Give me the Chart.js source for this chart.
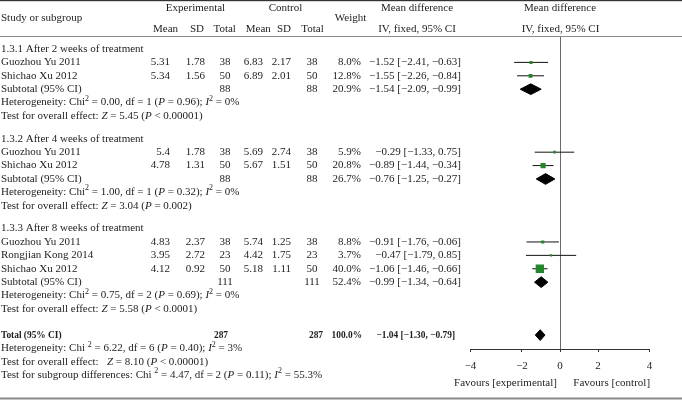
<!DOCTYPE html>
<html>
<head>
<meta charset="utf-8">
<script src="https://cdn.jsdelivr.net/npm/chart.js@4/dist/chart.umd.min.js"></script>
<style>
  html, body { margin: 0; padding: 0; background: #fff; }
  #wrap { width: 682px; height: 400px; position: relative; }
</style>
</head>
<body>
<div id="wrap"><canvas id="c"></canvas></div>
<script>
// ---------------- DATA ----------------
const groupTitles = ["1.3.1 After 2 weeks of treatment", "1.3.2 After 4 weeks of treatment", "1.3.3 After 8 weeks of treatment"];
const studyNames = ["Guozhou Yu 2011", "Shichao Xu 2012", "Guozhou Yu 2011", "Shichao Xu 2012", "Guozhou Yu 2011", "Rongjian Kong 2014", "Shichao Xu 2012"];
const studyGroup = [0, 0, 1, 1, 2, 2, 2];
const expMean = [5.31, 5.34, 5.4, 4.78, 4.83, 3.95, 4.12];
const expSD   = [1.78, 1.56, 1.78, 1.31, 2.37, 2.72, 0.92];
const expN    = [38, 50, 38, 50, 38, 23, 50];
const ctlMean = [6.83, 6.89, 5.69, 5.67, 5.74, 4.42, 5.18];
const ctlSD   = [2.17, 2.01, 2.74, 1.51, 1.25, 1.75, 1.11];
const ctlN    = [38, 50, 38, 50, 38, 23, 50];
const studyWeight = [8.0, 12.8, 5.9, 20.8, 8.8, 3.7, 40.0];
const studyMD = [-1.52, -1.55, -0.29, -0.89, -0.91, -0.47, -1.06];
const studyLo = [-2.41, -2.26, -1.33, -1.44, -1.76, -1.79, -1.46];
const studyHi = [-0.63, -0.84, 0.75, -0.34, -0.06, 0.85, -0.66];

const groupExpN = [88, 88, 111];
const groupCtlN = [88, 88, 111];
const groupWeight = [20.9, 26.7, 52.4];
const groupMD = [-1.54, -0.76, -0.99];
const groupLo = [-2.09, -1.25, -1.34];
const groupHi = [-0.99, -0.27, -0.64];
const groupChi = ["0.00", "1.00", "0.75"];
const groupDf = [1, 1, 2];
const groupHetP = ["0.96", "0.32", "0.69"];
const groupI2 = ["0%", "0%", "0%"];
const groupZ = ["5.45", "3.04", "5.58"];
const groupZP = ["< 0.00001", "= 0.002", "< 0.0001"];

const totalExpN = 287, totalCtlN = 287, totalWeight = 100.0;
const totalMD = -1.04, totalLo = -1.30, totalHi = -0.79;
const totalChi = "6.22", totalDf = 6, totalHetP = "0.40", totalI2 = "3%";
const totalZ = "8.10", totalZP = "< 0.00001";
const subChi = "4.47", subDf = 2, subP = "0.11", subI2 = "55.3%";

const xTicks = [-4, -2, 0, 2, 4];
const xTickLabels = ["−4", "−2", "0", "2", "4"];
const favourLeft = "Favours [experimental]";
const favourRight = "Favours [control]";

// ---------------- LAYOUT ----------------
const FONT = '"Liberation Serif", "Times New Roman", serif';
const ROW_PX = 13.4, ROW0_Y = 49, AREA_TOP = 36, AREA_BOTTOM = 349;
const GROUP_GAP = 0.7, TOTAL_GAP = 0.95;

const groupHeadRow = [], groupSubRow = [], studyRow = [];
let r = 0;
groupTitles.forEach((t, g) => {
  groupHeadRow[g] = r; r += 1;
  studyGroup.forEach((sg, i) => { if (sg === g) { studyRow[i] = r; r += 1; } });
  groupSubRow[g] = r;
  r += 3;
  if (g < groupTitles.length - 1) r += GROUP_GAP;
});
const totalRow = r + TOTAL_GAP;

const fmt2 = v => (v < 0 ? "−" : "") + Math.abs(v).toFixed(2);
const ciText = (m, lo, hi) => `${fmt2(m)} [${fmt2(lo)}, ${fmt2(hi)}]`;
const wText = w => w.toFixed(1) + "%";

// axis as drawn in the reference: linear near zero, outer ticks stretched
class ForestScale extends Chart.LinearScale {
  static id = 'forest';
  static defaults = Chart.LinearScale.defaults;
  getPixelForValue(value) {
    if (value === null || value === undefined || isNaN(value)) return NaN;
    const KNEE = 2.5, INNER = 0.531;
    const lim = Math.max(Math.abs(this.min), Math.abs(this.max));
    const a = Math.abs(value), s = Math.sign(value);
    const f = a <= KNEE ? a / KNEE * INNER : INNER + (a - KNEE) / (lim - KNEE) * (1 - INNER);
    return this.getPixelForDecimal(0.5 + s * f / 2);
  }
}
Chart.register(ForestScale);

// ---------------- DATASETS ----------------
const datasets = [];
datasets.push({
  type: 'line', label: 'Studies', showLine: false,
  data: studyMD.map((m, i) => ({ x: m, y: studyRow[i] })),
  pointStyle: 'rect',
  pointRadius: studyWeight.map(w => (1.7 + 0.165 * w) / Math.SQRT2),
  pointBackgroundColor: '#23862a', pointBorderWidth: 0, borderWidth: 0,
  order: 0
});
studyLo.forEach((lo, i) => {
  datasets.push({
    type: 'line', label: 'CI ' + i,
    data: [{ x: lo, y: studyRow[i] }, { x: studyHi[i], y: studyRow[i] }],
    borderColor: '#111', borderWidth: 1, pointRadius: 0, fill: false, order: 2
  });
});
const diamond = (m, lo, hi, row) => [
  { x: lo, y: row }, { x: m, y: row - 0.4 }, { x: hi, y: row }, { x: m, y: row + 0.4 }, { x: lo, y: row }
];
groupMD.forEach((m, g) => {
  datasets.push({
    type: 'line', label: 'Subtotal ' + g,
    data: diamond(m, groupLo[g], groupHi[g], groupSubRow[g]),
    borderColor: '#000', backgroundColor: '#000', borderWidth: 1, pointRadius: 0,
    fill: 'shape', tension: 0, order: 1
  });
});
datasets.push({
  type: 'line', label: 'Total',
  data: diamond(totalMD, totalLo, totalHi, totalRow),
  borderColor: '#000', backgroundColor: '#000', borderWidth: 1, pointRadius: 0,
  fill: 'shape', tension: 0, order: 1
});

// ---------------- TEXT PLUGIN ----------------
function fontFor(st) {
  if (st === 's') return `8px ${FONT}`;
  if (st === 'i') return `italic 11px ${FONT}`;
  if (st === 'b') return `bold 9.4px ${FONT}`;
  return `11px ${FONT}`;
}
function rich(ctx, segs, x, y, align) {
  let w = 0;
  segs.forEach(([t, st]) => { ctx.font = fontFor(st); w += ctx.measureText(t).width; });
  let cx = align === 'right' ? x - w : align === 'center' ? x - w / 2 : x;
  ctx.textAlign = 'left';
  segs.forEach(([t, st]) => {
    ctx.font = fontFor(st);
    ctx.fillText(t, cx, st === 's' ? y - 4 : y);
    cx += ctx.measureText(t).width;
  });
}
function txt(ctx, t, x, y, align, st) { rich(ctx, [[t, st || '']], x, y, align); }

const hetSegs = (chi, df, p, i2, gap) => [["Heterogeneity: Chi" + (gap ? " " : ""), ""], ["2", "s"], [` = ${chi}, df = ${df} (`, ""], ["P", "i"], [` = ${p}); `, ""], ["I", "i"], ["2", "s"], [` = ${i2}`, ""]];
const testSegs = (z, zp, gap) => [["Test for overall effect: " + (gap ? "  " : ""), ""], ["Z", "i"], [` = ${z} (`, ""], ["P", "i"], [` ${zp})`, ""]];

const COL = { name: 1, eM: 170, eSD: 205, eN: 225, cM: 263, cSD: 291, cN: 312, w: 361, md: 461 };

const tablePlugin = {
  id: 'forestTable',
  beforeDraw(chart) {
    const ctx = chart.ctx;
    ctx.save();
    ctx.fillStyle = '#fff';
    ctx.fillRect(0, 0, chart.width, chart.height);
    ctx.restore();
  },
  afterDraw(chart) {
    const ctx = chart.ctx, ys = chart.scales.y;
    const Y = v => ys.getPixelForValue(v);
    ctx.save();
    ctx.fillStyle = '#333'; ctx.fillRect(0, 0, chart.width, 1.2);
    ctx.fillStyle = '#8a8a8a'; ctx.fillRect(0, 36, chart.width, 1);
    ctx.fillStyle = '#8a8a8a'; ctx.fillRect(0, 397.5, chart.width, 2);

    ctx.fillStyle = '#1d1d1d';
    ctx.textBaseline = 'middle';
    txt(ctx, "Study or subgroup", 1, 18.5, 'left');
    txt(ctx, "Experimental", 195.5, 8.5, 'center');
    txt(ctx, "Control", 285.5, 8, 'center');
    txt(ctx, "Mean", 165.5, 29.5, 'center');
    txt(ctx, "SD", 197, 29.5, 'center');
    txt(ctx, "Total", 224.7, 29.5, 'center');
    txt(ctx, "Mean", 258.3, 29.5, 'center');
    txt(ctx, "SD", 284, 29.5, 'center');
    txt(ctx, "Total", 312.5, 29.5, 'center');
    txt(ctx, "Weight", 350.5, 18.5, 'center');
    txt(ctx, "Mean difference", 417, 8, 'center');
    txt(ctx, "IV, fixed, 95% CI", 417, 29.5, 'center');
    txt(ctx, "Mean difference", 560, 8, 'center');
    txt(ctx, "IV, fixed, 95% CI", 560.5, 29.5, 'center');

    groupTitles.forEach((t, g) => {
      txt(ctx, t, COL.name, Y(groupHeadRow[g]), 'left');
      const sr = groupSubRow[g];
      txt(ctx, "Subtotal (95% CI)", COL.name, Y(sr), 'left');
      txt(ctx, String(groupExpN[g]), COL.eN, Y(sr), 'center');
      txt(ctx, String(groupCtlN[g]), COL.cN, Y(sr), 'center');
      txt(ctx, wText(groupWeight[g]), COL.w, Y(sr), 'right');
      txt(ctx, ciText(groupMD[g], groupLo[g], groupHi[g]), COL.md, Y(sr), 'right');
      rich(ctx, hetSegs(groupChi[g], groupDf[g], groupHetP[g], groupI2[g], false), COL.name, Y(sr + 1), 'left');
      rich(ctx, testSegs(groupZ[g], groupZP[g], false), COL.name, Y(sr + 2), 'left');
    });
    studyNames.forEach((n, i) => {
      const y = Y(studyRow[i]);
      txt(ctx, n, COL.name, y, 'left');
      txt(ctx, String(expMean[i]), COL.eM, y, 'right');
      txt(ctx, String(expSD[i]), COL.eSD, y, 'right');
      txt(ctx, String(expN[i]), COL.eN, y, 'center');
      txt(ctx, String(ctlMean[i]), COL.cM, y, 'right');
      txt(ctx, String(ctlSD[i]), COL.cSD, y, 'right');
      txt(ctx, String(ctlN[i]), COL.cN, y, 'center');
      txt(ctx, wText(studyWeight[i]), COL.w, y, 'right');
      txt(ctx, ciText(studyMD[i], studyLo[i], studyHi[i]), COL.md, y, 'right');
    });
    const ty = Y(totalRow);
    txt(ctx, "Total (95% CI)", COL.name, ty, 'left', 'b');
    txt(ctx, String(totalExpN), 228, ty, 'right', 'b');
    txt(ctx, String(totalCtlN), 323, ty, 'right', 'b');
    txt(ctx, wText(totalWeight), 362, ty, 'right', 'b');
    txt(ctx, ciText(totalMD, totalLo, totalHi), 455, ty, 'right', 'b');
    rich(ctx, hetSegs(totalChi, totalDf, totalHetP, totalI2, true), COL.name, Y(totalRow + 1), 'left');
    rich(ctx, testSegs(totalZ, totalZP, true), COL.name, Y(totalRow + 2), 'left');
    rich(ctx, [["Test for subgroup differences: Chi ", ""], ["2", "s"], [` = ${subChi}, df = ${subDf} (`, ""], ["P", "i"], [` = ${subP}); `, ""], ["I", "i"], ["2", "s"], [` = ${subI2}`, ""]], COL.name, Y(totalRow + 3), 'left');

    txt(ctx, favourLeft, 505.5, 383.5, 'center');
    txt(ctx, favourRight, 611.7, 383.5, 'center');
    ctx.restore();
  }
};

new Chart(document.getElementById('c'), {
  type: 'line',
  data: { datasets },
  options: {
    responsive: true,
    maintainAspectRatio: false,
    animation: false,
    events: [],
    layout: { padding: { left: 470.5, right: 32.5, top: AREA_TOP, bottom: 0 } },
    plugins: { legend: { display: false }, tooltip: { enabled: false } },
    scales: {
      x: {
        type: 'forest',
        min: -4, max: 4,
        afterBuildTicks: s => { s.ticks = xTicks.map(v => ({ value: v })); },
        afterFit: s => { s.height = 400 - AREA_BOTTOM; },
        ticks: {
          autoSkip: false, maxRotation: 0, padding: 8,
          color: '#1d1d1d',
          font: { family: FONT, size: 11 },
          callback: (v) => xTickLabels[xTicks.indexOf(v)]
        },
        grid: {
          drawOnChartArea: true,
          color: c => (c.tick && c.tick.value === 0) ? '#6a6a6a' : 'rgba(0,0,0,0)',
          tickColor: '#333',
          tickLength: 3,
          lineWidth: 1
        },
        border: { display: true, color: '#333', width: 1 }
      },
      y: {
        type: 'linear', display: false, reverse: true,
        min: (AREA_TOP - ROW0_Y) / ROW_PX,
        max: (AREA_BOTTOM - ROW0_Y) / ROW_PX
      }
    }
  },
  plugins: [tablePlugin]
});
</script>
</body>
</html>
